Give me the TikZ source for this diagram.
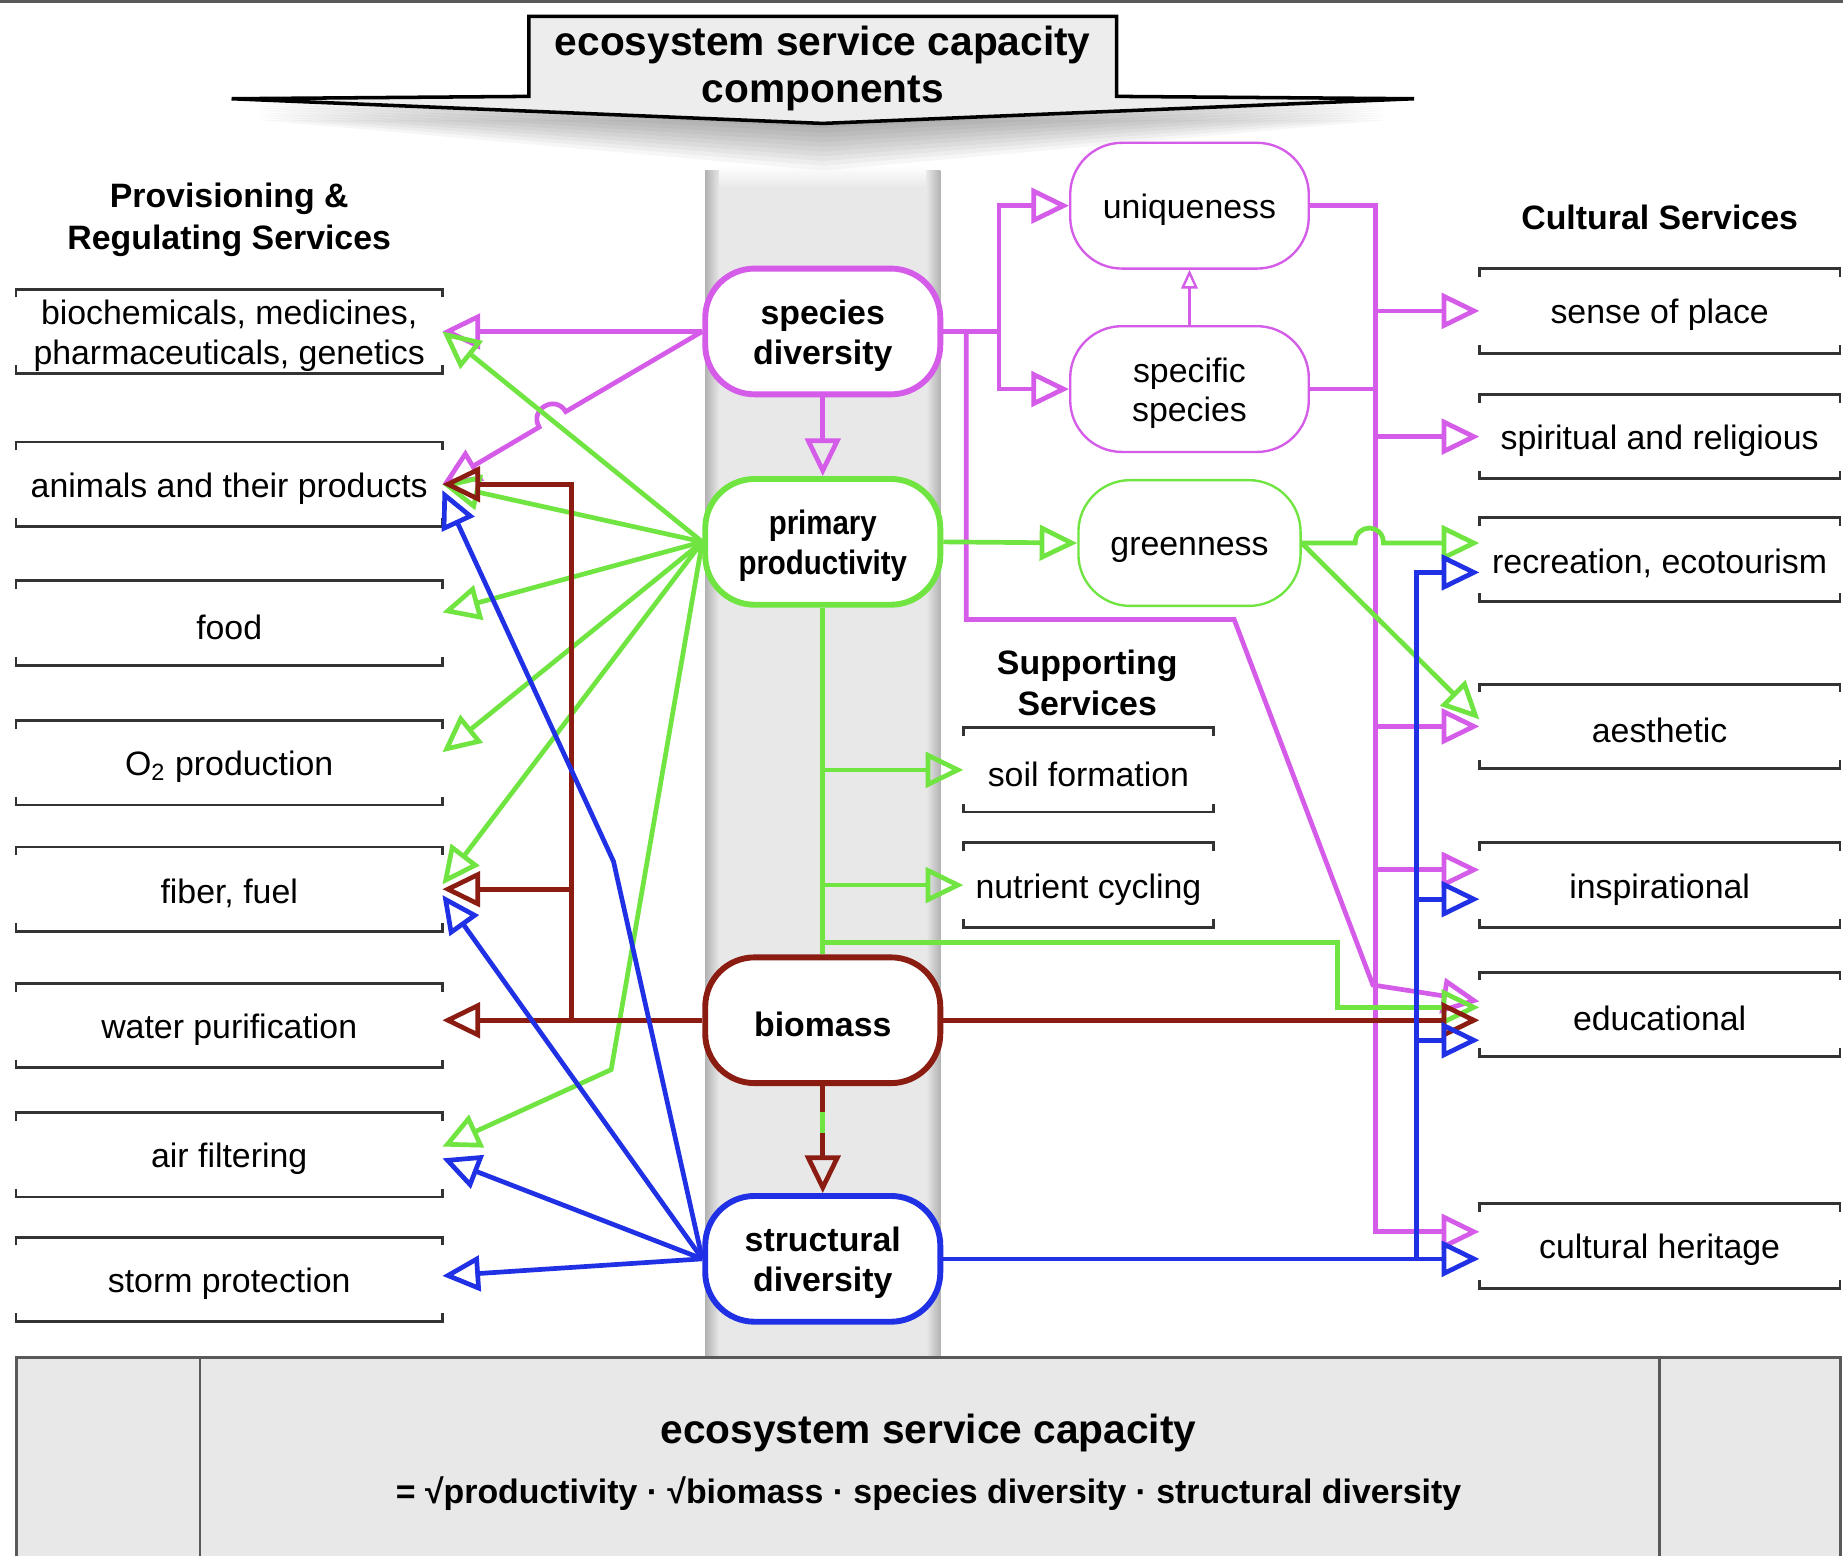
\documentclass[tikz,border=0pt]{standalone}
\usepackage{fontspec}
\setmainfont{Liberation Sans}
\usepackage{graphicx}
\usetikzlibrary{arrows.meta,calc}
\definecolor{vio}{RGB}{212,92,232}
\definecolor{grn}{RGB}{112,228,64}
\definecolor{dred}{RGB}{138,28,18}
\definecolor{blu}{RGB}{32,48,228}
\definecolor{bandc}{RGB}{232,232,232}
\newcommand{\mystrut}{\rule{0pt}{14pt}}
\begin{document}
\begin{tikzpicture}[x=0.5pt,y=-0.5pt,
  blabel/.style={font=\fontsize{14.4}{17}\selectfont, align=center, execute at begin node={\rule{0pt}{14pt}}},
  bk/.style={blabel, inner sep=0pt, minimum height=35.5pt},
  lbox/.style={bk, minimum width=181pt},
  rbox/.style={bk, minimum width=153pt},
  sbox/.style={bk, minimum width=106pt},
  corenode/.style={draw, line width=2.5pt, rounded corners=21pt, fill=white, minimum width=100pt, minimum height=53.5pt, inner sep=0pt, align=center, font=\bfseries\fontsize{14.4}{17}\selectfont, execute at begin node={\rule{0pt}{14pt}}},
  subnode/.style={draw, line width=1pt, rounded corners=22pt, fill=white, minimum height=53.5pt, inner sep=0pt, align=center, font=\fontsize{14.4}{17}\selectfont, execute at begin node={\rule{0pt}{14pt}}},
  heading/.style={font=\bfseries\fontsize{14.4}{17.5}\selectfont, align=center},
  wire/.style={line width=2pt},
  opentip/.style={-{Triangle[open,length=16pt,width=15pt]}},
  bracketline/.style={draw=black!80, line width=1.2pt},
]
\useasboundingbox (0,0) rectangle (1568,1323);
\clip (0,0) rectangle (1568,1323);
\fill[white] (0,0) rectangle (1568,1323);
\draw[black!65, line width=1.5pt] (0,1) -- (1568,1);

% central grey band
\fill[bandc] (600,145) rectangle (800,1155);
\shade[left color=black!30, right color=bandc] (600,145) rectangle (612,1155);
\shade[left color=bandc, right color=black!30] (788,145) rectangle (800,1155);
\shade[top color=white, bottom color=bandc] (612,140) rectangle (788,160);

% bottom box
\fill[bandc] (14,1155) rectangle (1566,1340);
\draw[black!65, line width=1pt] (14,1340) -- (14,1155) -- (1566,1155) -- (1566,1340);
\draw[black!65, line width=1pt] (170,1155) -- (170,1340);
\draw[black!65, line width=1pt] (1412,1155) -- (1412,1340);
\node (bt1) at (790,1219) {\bfseries\fontsize{17.3}{20}\selectfont ecosystem service capacity};
\node (bt2) at (790,1271) {\bfseries\fontsize{14.4}{17}\selectfont = √productivity · √biomass · species diversity · structural diversity};

% title arrow with shadow
\foreach \d in {4,8,...,40} {
  \fill[black, opacity=0.035] (220,{82+\d*0.5}) -- (700,{105+\d}) -- (1180,{82+\d*0.5}) -- cycle;
}
\draw[black, line width=1.5pt, fill=black!7] (450,14) -- (950,14) -- (950,82) -- (1203,84) -- (700,105) -- (197,84) -- (450,82) -- cycle;
\node[font=\bfseries\fontsize{17.3}{20}\selectfont, align=center] (title) at (700,58) {ecosystem service capacity\\components};

% headings
\node[heading] (hprov) at (195,187) {Provisioning \&\\Regulating Services};
\node[heading] (hsupp) at (925,581) {Supporting\\Services};
\node[heading] (hcult) at (1412,185) {Cultural Services};

% left boxes
\node[lbox] (bio) at (195,282) {\mystrut biochemicals, medicines,\\pharmaceuticals, genetics};
\node[lbox] (ani) at (195,412) {animals and their products};
\node[lbox] (food) at (195,530) {food};
\node[lbox] (otwo) at (195,649) {O\textsubscript{2} production};
\node[lbox] (fib) at (195,756.5) {fiber, fuel};
\node[lbox] (wat) at (195,872.5) {water purification};
\node[lbox] (air) at (195,982.5) {air filtering};
\node[lbox] (sto) at (195,1088.5) {storm protection};

% right boxes
\node[rbox] (sen) at (1412,264.5) {sense of place};
\node[rbox] (spi) at (1412,371.5) {spiritual and religious};
\node[rbox] (rec) at (1412,476) {recreation, ecotourism};
\node[rbox] (aes) at (1412,618) {aesthetic};
\node[rbox] (insp) at (1412,753) {inspirational};
\node[rbox] (edu) at (1412,863) {educational};
\node[rbox] (her) at (1412,1060) {cultural heritage};

% supporting boxes
\node[sbox] (soil) at (926,655) {soil formation};
\node[sbox] (nut) at (926,753) {nutrient cycling};

\foreach \n in {bio,ani,food,otwo,fib,wat,air,sto,sen,spi,rec,aes,insp,edu,her,soil,nut} {
  \draw[bracketline] ([yshift=-3.5pt]\n.north west) -- (\n.north west) -- (\n.north east) -- ([yshift=-3.5pt]\n.north east);
  \draw[bracketline] ([yshift=3.5pt]\n.south west) -- (\n.south west) -- (\n.south east) -- ([yshift=3.5pt]\n.south east);
}

% core nodes
\node[corenode, draw=vio] (sd) at (700,282) {\mystrut species\\diversity};
\node[corenode, draw=grn] (pp) at (700,461) {\mystrut\scalebox{0.87}[1]{primary}\\\scalebox{0.87}[1]{productivity}};
\node[corenode, draw=dred] (bm) at (700,868) {biomass};
\node[corenode, draw=blu] (st) at (700,1071) {\mystrut structural\\diversity};

\node[subnode, draw=vio, minimum width=101.5pt] (uq) at (1012,175) {uniqueness};
\node[subnode, draw=vio, minimum width=101.5pt] (sp) at (1012,331) {\mystrut specific\\species};
\node[subnode, draw=grn, minimum width=94.5pt] (gr) at (1012,462) {greenness};

\coordinate (vbus) at (1170,0);
\coordinate (bbus) at (1205,0);

% violet connectors
\draw[wire,vio,opentip] (sd.west) -- (bio.east);
\draw[wire,vio,opentip] (sd.west) -- (481.3,350.2) .. controls (472.5,335.2) and (449.9,348.4) .. (458.7,363.4) -- (ani.east);
\draw[wire,vio,opentip] (sd.south) -- (pp.north);
\draw[wire,vio,opentip] (sd.east) -- (850,282) |- (uq.west);
\draw[wire,vio,opentip] (850,282) |- (sp.west);
\draw[vio,line width=1pt,-{Triangle[open,length=8pt,width=7pt]}] (sp.north) -- (uq.south);
\draw[wire,vio,opentip] (sd.east) -| (822,527) -- (1050,527) -- (1168,838) -- ([yshift=5.5pt]edu.west);
\draw[wire,vio,opentip] (uq.east) -| (1170,1048) -- ([yshift=6pt]her.west);
\draw[wire,vio] (sp.east) -- (sp.east -| vbus);
\draw[wire,vio,opentip] (sen.west -| vbus) -- (sen.west);
\draw[wire,vio,opentip] (spi.west -| vbus) -- (spi.west);
\draw[wire,vio,opentip] (aes.west -| vbus) -- (aes.west);
\draw[wire,vio,opentip] ([yshift=6.5pt]insp.west) ++(-88,0) -- ([yshift=6.5pt]insp.west);

% green connectors
\draw[wire,grn,opentip] (pp.west) -- (bio.east);
\draw[wire,grn,opentip] (pp.west) -- (ani.east);
\draw[wire,grn,opentip] (pp.west) -- ([yshift=4.5pt]food.east);
\draw[wire,grn,opentip] (pp.west) -- ([yshift=4.5pt]otwo.east);
\draw[wire,grn,opentip] (pp.west) -- ([yshift=2pt]fib.east);
\draw[wire,grn,opentip] (pp.west) -- (520,910) -- ([yshift=3.5pt]air.east);
\draw[wire,grn,opentip] (pp.east) -- (gr.west);
\draw[wire,grn] (pp.south) -- (bm.north);
\draw[wire,grn,opentip] (pp.south |- soil.west) -- (soil.west);
\draw[wire,grn,opentip] (pp.south |- nut.west) -- (nut.west);
\draw[wire,grn,opentip] (bm.north) ++(0,-10) -- ++(438,0) |- ([yshift=3pt]edu.west);
\draw[wire,grn,opentip] (gr.east) -- (1153,462) .. controls (1153,445) and (1177,445) .. (1177,462) -- ([yshift=7pt]rec.west);
\draw[wire,grn,opentip] (gr.east) -- ([yshift=3pt]aes.west);

% dark red connectors
\draw[wire,dred,opentip] (bm.west) -- (bm.west -| wat.east);
\draw[wire,dred,opentip] (bm.west) ++(-111,0) |- (ani.east);
\draw[wire,dred,opentip] (bm.west) ++(-111,0) |- (fib.east);
\draw[wire,dred,opentip] (bm.east) -- (bm.east -| edu.west);
\draw[wire,dred,opentip] (bm.south) -- (st.north);
\draw[wire,grn] (bm.south) ++(0,22) -- ++(0,18);

% blue connectors
\draw[wire,blu,opentip] (st.west) -- (522,733) -- ([yshift=-2.5pt]ani.east);
\draw[wire,blu,opentip] (st.west) -- ([yshift=-2.5pt]fib.east);
\draw[wire,blu,opentip] (st.west) -- ([yshift=-1.5pt]air.east);
\draw[wire,blu,opentip] (st.west) -- ([yshift=1.5pt]sto.east);
\draw[wire,blu,opentip] (st.east) -- (st.east -| her.west);
\draw[wire,blu,opentip] (st.east -| bbus) |- ([yshift=-5.5pt]rec.west);
\draw[wire,blu,opentip] ([yshift=-6pt]insp.west) ++(-53,0) -- ([yshift=-6pt]insp.west);
\draw[wire,blu,opentip] ([yshift=-11pt]edu.west) ++(-53,0) -- ([yshift=-11pt]edu.west);
\end{tikzpicture}
\end{document}
